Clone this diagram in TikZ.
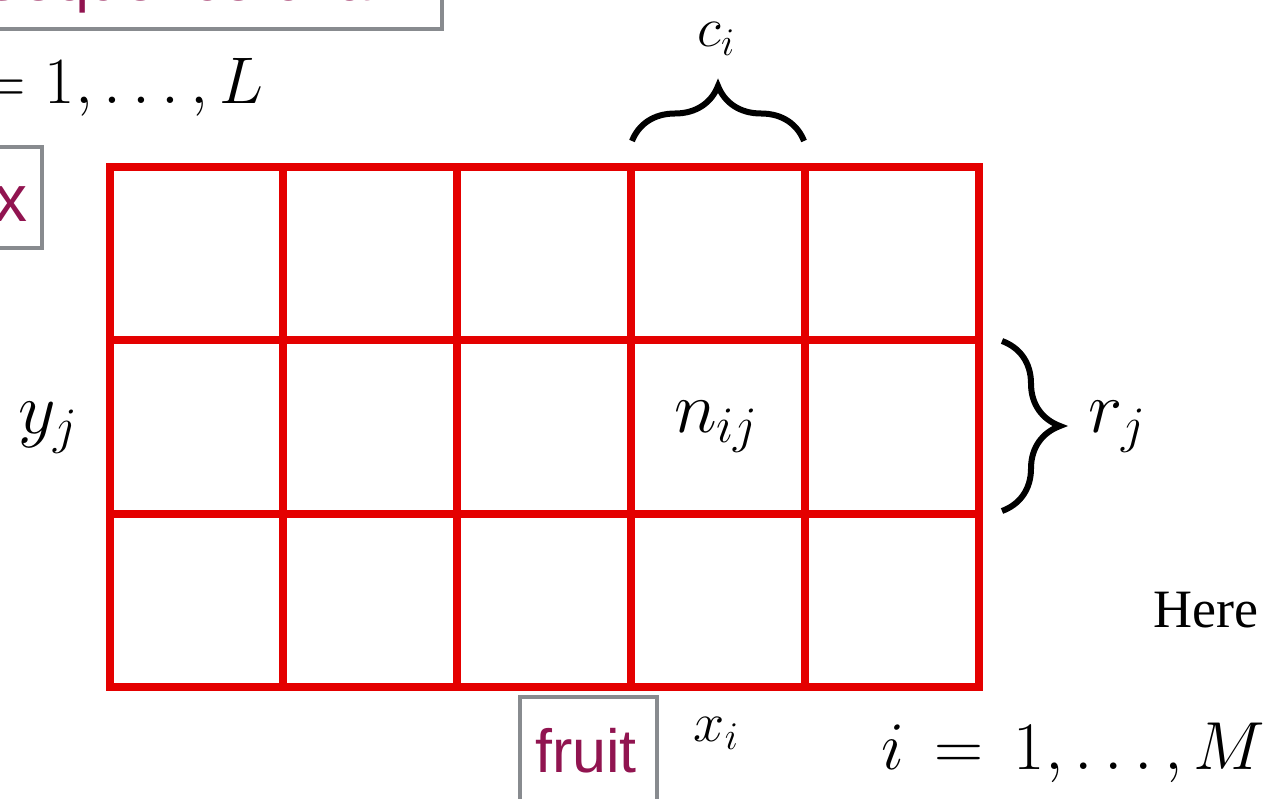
\RequirePackage{fix-cm}
\documentclass[tikz,border=0pt]{standalone}
\usepackage{fontspec}
\newfontfamily\labelfont{Liberation Sans}
\newfontfamily\timesfont{Liberation Serif}
\usetikzlibrary{decorations.pathreplacing}
\definecolor{gridred}{RGB}{228,0,0}
\definecolor{labelmag}{RGB}{145,20,80}
\definecolor{boxgray}{RGB}{136,139,143}
\newcommand{\wideeq}{\mathrel{\mkern3mu=\mkern3mu}}
\tikzset{
  gridline/.style={draw=gridred, line width=7.5pt, line cap=rect},
  tagbox/.style={draw=boxgray, line width=4pt, fill=white},
  tagtext/.style={text=labelmag, inner sep=0pt, font=\labelfont\fontsize{61}{70}\selectfont},
  bigmath/.style={inner sep=0pt, font=\fontsize{73}{84}\selectfont},
  rangemath/.style={inner sep=0pt, font=\fontsize{68}{80}\selectfont},
  smallmath/.style={inner sep=0pt, font=\fontsize{56}{66}\selectfont},
  bracestyle/.style={draw=black, line width=6pt, decorate},
}
\begin{document}
\begin{tikzpicture}[x=1pt,y=-1pt]
\useasboundingbox (0,0) rectangle (1271,799);
\clip (0,0) rectangle (1271,799);
\fill[white] (0,0) rectangle (1271,799);

% grid
\foreach \x in {110,283,457,631,805,979} \draw[gridline] (\x,167) -- (\x,687);
\foreach \y in {167,340,514,687} \draw[gridline] (110,\y) -- (979,\y);
\coordinate (cTL) at (632,141);
\coordinate (cTR) at (804,141);
\coordinate (rT) at (1002,341);
\coordinate (rB) at (1002,511);

% braces
\draw[bracestyle, decoration={brace, amplitude=55pt}] (cTL) -- (cTR);
\draw[bracestyle, decoration={brace, amplitude=58pt}] (rT) -- (rB);

% math labels
\node[smallmath, anchor=base] (ci) at (716,47) {$c_i$};
\node[smallmath, anchor=base] (xi) at (716,741) {$x_i$};
\node[bigmath, anchor=base] (yj) at (48,433) {$y_j$};
\node[bigmath, anchor=base] (nij) at (716,432) {$n_{ij}$};
\node[bigmath, anchor=base] (rj) at (1117,432) {$r_j$};
\node[rangemath, anchor=base east, font=\fontsize{66}{78}\selectfont] (jrange) at (264,104) {$j = 1,\ldots,L$};
\node[rangemath, anchor=base east] (irange) at (1266,769) {$i \wideeq 1,\ldots,M$};
\node[inner sep=0pt, anchor=base west, font=\timesfont\fontsize{54}{64}\selectfont] (here) at (1153,627) {Here};

% tag boxes
\draw[tagbox] (-20,-80) rectangle (442,29);
\node[tagtext, anchor=base west] (toptag) at (-19,1) {Sequence chain};
\draw[tagbox] (-20,147) rectangle (42,248);
\node[tagtext, anchor=base west, font=\labelfont\fontsize{66}{75}\selectfont] (xtag) at (-6,222) {x};
\draw[tagbox] (520,697) rectangle (657,830);
\node[tagtext, anchor=base west] (fruit) at (535,772) {fruit};
\end{tikzpicture}
\end{document}
